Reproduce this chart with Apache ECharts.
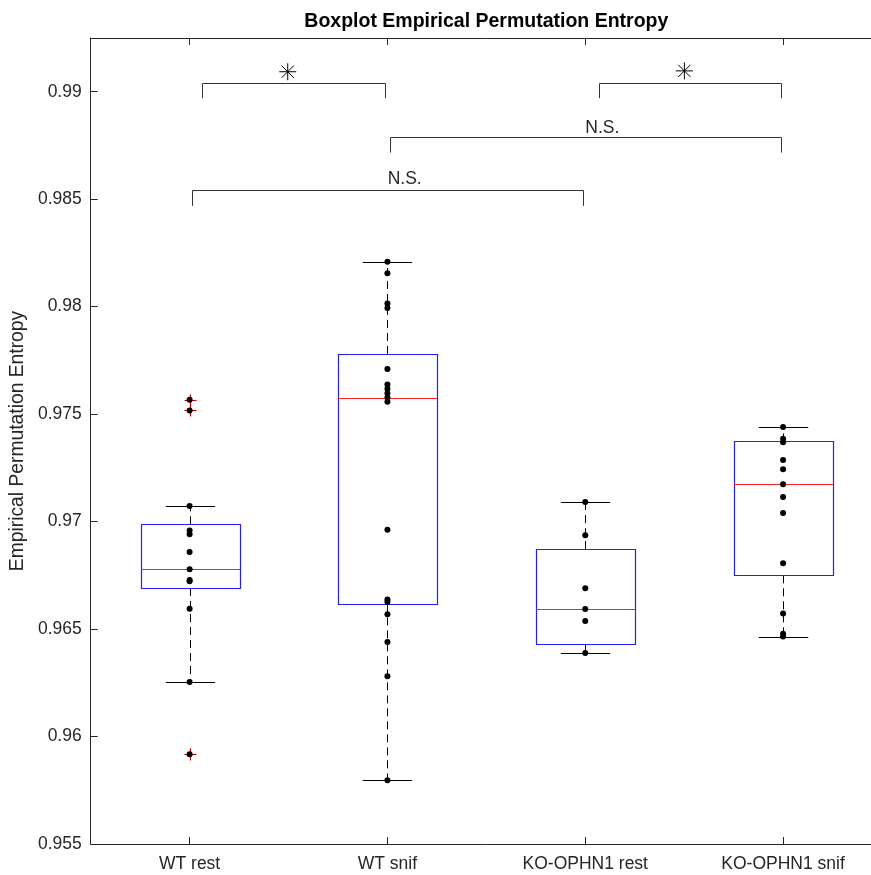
<!DOCTYPE html>
<html>
<head>
<meta charset="utf-8">
<script src="https://cdn.jsdelivr.net/npm/echarts@6/dist/echarts.min.js"></script>
<style>
  html, body { margin: 0; padding: 0; background: #ffffff; overflow: hidden; }
  /* the axes box runs a little past the right edge of the window */
  #chart { width: 882px; height: 875px; }
</style>
</head>
<body>
<div id="chart"></div>
<script>
// Groups on the x axis
const categories = ['WT rest', 'WT snif', 'KO-OPHN1 rest', 'KO-OPHN1 snif'];

// Box summaries per group: [lower whisker, Q1, median, Q3, upper whisker]
const boxStats = [
  [0.96254, 0.96691, 0.96778, 0.96987, 0.97072],
  [0.95797, 0.96615, 0.97577, 0.97780, 0.98209],
  [0.96389, 0.96429, 0.96593, 0.96872, 0.97091],
  [0.96465, 0.96750, 0.97174, 0.97373, 0.97440]
];

// Individual observations per group
const wtRest = [0.95917, 0.96254, 0.96595, 0.96722, 0.96728, 0.96778, 0.96858, 0.96941, 0.96959, 0.97072, 0.97517, 0.97567];
const wtSnif = [0.95797, 0.96281, 0.96440, 0.96569, 0.96626, 0.96638, 0.96962, 0.97558, 0.97577, 0.97597, 0.97618, 0.97638, 0.97710, 0.97994, 0.98015, 0.98155, 0.98209];
const koRest = [0.96389, 0.96538, 0.96593, 0.96690, 0.96937, 0.97091];
const koSnif = [0.96465, 0.96478, 0.96572, 0.96806, 0.97040, 0.97114, 0.97174, 0.97244, 0.97287, 0.97369, 0.97385, 0.97440];

// Outliers of the first group
const wtRestOutliers = [0.95917, 0.97517, 0.97567];

// Y ticks
const yMin = 0.955, yMax = 0.9925, yStep = 0.005;

// Significance brackets: [x start, x end, bar level, foot level]
const brackets = [
  [1.062, 1.986, 0.99042, 0.98970],
  [3.067, 3.988, 0.99042, 0.98970],
  [2.012, 3.988, 0.98790, 0.98717],
  [1.014, 2.988, 0.98542, 0.98469]
];
// Asterisk marks [x, y]
const starMarks = [[1.496, 0.99093], [3.501, 0.99097]];
// "N.S." labels [x, y]
const nsMarks = [[3.000, 0.98831], [2.001, 0.98593]];
const nsText = 'N.S.';

const FONT = 'Liberation Sans, Arial, sans-serif';
const AX = '#262626';

const groups = [wtRest, wtSnif, koRest, koSnif];
const dotData = [];
groups.forEach((g, i) => g.forEach(v => dotData.push([i, v])));
const outlierData = wtRestOutliers.map(v => [0, v]);

const px = v => Math.round(v) + 0.5;

function renderBox(params, api) {
  const c = api.value(0);
  const lo = api.coord([c, api.value(1)]);
  const q1 = api.coord([c, api.value(2)]);
  const md = api.coord([c, api.value(3)]);
  const q3 = api.coord([c, api.value(4)]);
  const hi = api.coord([c, api.value(5)]);
  const band = api.size([1, 0])[0];
  const hw = band * 0.25, cw = band * 0.125;
  const x = px(lo[0]);
  const dash = { stroke: '#000', lineWidth: 1, lineDash: [8, 5] };
  const solid = { stroke: '#000', lineWidth: 1 };
  return {
    type: 'group',
    children: [
      { type: 'line', shape: { x1: x, y1: q3[1], x2: x, y2: hi[1] }, style: dash },
      { type: 'line', shape: { x1: x, y1: q1[1], x2: x, y2: lo[1] }, style: dash },
      { type: 'line', shape: { x1: x - cw, y1: px(hi[1]), x2: x + cw, y2: px(hi[1]) }, style: solid },
      { type: 'line', shape: { x1: x - cw, y1: px(lo[1]), x2: x + cw, y2: px(lo[1]) }, style: solid },
      { type: 'rect', shape: { x: px(x - hw), y: px(q3[1]), width: Math.round(2 * hw), height: Math.round(q1[1] - q3[1]) },
        style: { fill: 'none', stroke: '#2020ff', lineWidth: 1.2 } },
      { type: 'line', shape: { x1: x - hw, y1: px(md[1]), x2: x + hw, y2: px(md[1]) },
        style: { stroke: '#ff2020', lineWidth: 1.2 } }
    ]
  };
}

function renderBracket(params, api) {
  const a = api.coord([api.value(0), api.value(3)]);
  const b = api.coord([api.value(0), api.value(2)]);
  const c = api.coord([api.value(1), api.value(2)]);
  const d = api.coord([api.value(1), api.value(3)]);
  return {
    type: 'polyline',
    shape: { points: [[px(a[0]), a[1]], [px(b[0]), px(b[1])], [px(c[0]), px(c[1])], [px(d[0]), d[1]]] },
    style: { stroke: '#333', lineWidth: 1, fill: 'none' }
  };
}

function renderStar(params, api) {
  const p = api.coord([api.value(0), api.value(1)]);
  const r = 8.5, q = r * 0.72;
  const x = p[0], y = p[1];
  return {
    type: 'path',
    shape: {
      pathData: `M${x},${y - r}L${x},${y + r}M${x - r},${y}L${x + r},${y}` +
                `M${x - q},${y - q}L${x + q},${y + q}M${x - q},${y + q}L${x + q},${y - q}`
    },
    style: { stroke: '#000', lineWidth: 1, fill: 'none' }
  };
}

function renderPlus(params, api) {
  const p = api.coord([api.value(0), api.value(1)]);
  const r = 6, x = px(p[0]), y = px(p[1]);
  return {
    type: 'path',
    shape: { pathData: `M${x},${y - r}L${x},${y + r}M${x - r},${y}L${x + r},${y}` },
    style: { stroke: '#cc0000', lineWidth: 1.2, fill: 'none' }
  };
}

function renderText(params, api) {
  const p = api.coord([api.value(0), api.value(1)]);
  return {
    type: 'text',
    x: p[0], y: p[1],
    style: { text: nsText, fill: AX, font: `17.5px ${FONT}`, textAlign: 'left', textVerticalAlign: 'middle' }
  };
}

const chart = echarts.init(document.getElementById('chart'), null, { renderer: 'canvas' });

const catAxisBase = {
  type: 'category',
  data: categories,
  boundaryGap: true,
  axisLine: { show: true, lineStyle: { color: AX, width: 1 } },
  axisTick: { show: true, inside: true, length: 7, alignWithLabel: true, lineStyle: { color: AX } },
  splitLine: { show: false }
};

chart.setOption({
  animation: false,
  backgroundColor: '#ffffff',
  grid: { left: 90, top: 38, right: 0, bottom: 31, containLabel: false },
  xAxis: [
    Object.assign({}, catAxisBase, {
      position: 'bottom',
      axisLabel: { color: AX, fontSize: 17.5, fontFamily: FONT, margin: 11 }
    }),
    Object.assign({}, catAxisBase, {
      position: 'top',
      axisLabel: { show: false },
      name: 'Boxplot Empirical Permutation Entropy',
      nameLocation: 'middle',
      nameGap: 6,
      nameTextStyle: { color: '#000', fontSize: 19.5, fontWeight: 'bold', fontFamily: FONT }
    }),
    { type: 'value', min: 0.5, max: 4.5, show: false, position: 'bottom', splitLine: { show: false } }
  ],
  yAxis: {
    type: 'value',
    min: yMin, max: yMax, interval: yStep,
    splitLine: { show: false },
    axisLine: { show: true, lineStyle: { color: AX, width: 1 } },
    axisTick: { show: true, inside: true, length: 7, lineStyle: { color: AX } },
    axisLabel: {
      color: AX, fontSize: 17.5, fontFamily: FONT, margin: 9,
      formatter: v => (Math.abs(v / yStep - Math.round(v / yStep)) < 1e-6 ? String(+v.toFixed(3)) : '')
    },
    name: 'Empirical Permutation Entropy',
    nameLocation: 'middle',
    nameGap: 60,
    nameTextStyle: { color: AX, fontSize: 19.3, fontFamily: FONT }
  },
  series: [
    {
      type: 'custom', xAxisIndex: 0, silent: true, z: 2,
      renderItem: renderBox,
      encode: { x: 0, y: [1, 2, 3, 4, 5] },
      data: boxStats.map((s, i) => [i].concat(s))
    },
    {
      type: 'custom', xAxisIndex: 0, silent: true, z: 3,
      renderItem: renderPlus,
      encode: { x: 0, y: 1 },
      data: outlierData
    },
    {
      type: 'scatter', xAxisIndex: 0, silent: true, z: 4,
      symbol: 'circle', symbolSize: 6,
      itemStyle: { color: '#000', opacity: 1 },
      data: dotData
    },
    {
      type: 'custom', xAxisIndex: 2, silent: true, z: 5,
      renderItem: renderBracket,
      encode: { x: [0, 1], y: [2, 3] },
      data: brackets
    },
    {
      type: 'custom', xAxisIndex: 2, silent: true, z: 5,
      renderItem: renderStar,
      encode: { x: 0, y: 1 },
      data: starMarks
    },
    {
      type: 'custom', xAxisIndex: 2, silent: true, z: 5,
      renderItem: renderText,
      encode: { x: 0, y: 1 },
      data: nsMarks
    }
  ]
});
</script>
</body>
</html>
